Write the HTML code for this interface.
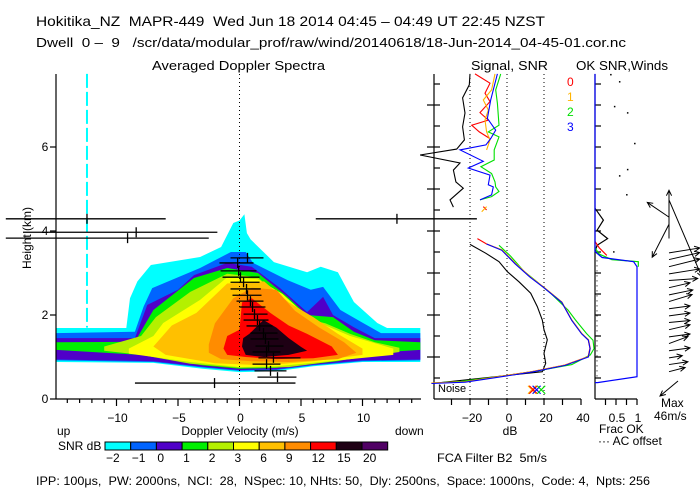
<!DOCTYPE html>
<html><head><meta charset="utf-8"><style>
html,body{margin:0;padding:0;background:#fff;width:700px;height:500px;overflow:hidden}
svg{display:block}
text{font-family:"Liberation Sans",sans-serif;white-space:pre}
</style></head><body>
<svg id="chart" width="700" height="500" viewBox="0 0 700 500" xmlns="http://www.w3.org/2000/svg" fill="#000">
<defs><clipPath id="mainClip"><rect x="56" y="60" width="365" height="339"/></clipPath></defs>
<text x="36" y="26" font-size="14" textLength="509" lengthAdjust="spacingAndGlyphs">Hokitika_NZ  MAPR-449  Wed Jun 18 2014 04:45 – 04:49 UT 22:45 NZST</text>
<text x="36" y="47" font-size="13" textLength="590" lengthAdjust="spacingAndGlyphs">Dwell  0 –  9   /scr/data/modular_prof/raw/wind/20140618/18-Jun-2014_04-45-01.cor.nc</text>
<text x="152" y="70" font-size="13" textLength="173" lengthAdjust="spacingAndGlyphs">Averaged Doppler Spectra</text>
<text x="471" y="70" font-size="13" textLength="77" lengthAdjust="spacingAndGlyphs">Signal, SNR</text>
<text x="576" y="70" font-size="13" textLength="92" lengthAdjust="spacingAndGlyphs">OK SNR,Winds</text>
<g id="spec" clip-path="url(#mainClip)"></g>
<g id="g"></g>
<text x="31" y="238" font-size="12" text-anchor="middle" transform="rotate(-90 31 238)">Height (km)</text>
<text x="57" y="435" font-size="12">up</text>
<text x="240" y="435" font-size="12" text-anchor="middle">Doppler Velocity (m/s)</text>
<text x="395" y="435" font-size="12">down</text>
<text x="58" y="450" font-size="12">SNR dB</text>
<text x="510" y="435" font-size="12" text-anchor="middle">dB</text>
<text x="437" y="462" font-size="12" textLength="110" lengthAdjust="spacingAndGlyphs">FCA Filter B2  5m/s</text>
<text x="599" y="433" font-size="12">Frac OK</text>
<text x="598" y="445" font-size="12">··· AC offset</text>
<text x="661" y="407" font-size="12">Max</text>
<text x="654" y="420" font-size="12">46m/s</text>
<text x="438" y="392" font-size="11">Noise</text>
<text x="36" y="485" font-size="12" textLength="614" lengthAdjust="spacingAndGlyphs">IPP: 100μs,  PW: 2000ns,  NCI:  28,  NSpec: 10, NHts: 50,  Dly: 2500ns,  Space: 1000ns,  Code: 4,  Npts: 256</text>
</svg>
<script>
const levelNames = ["-2","-1","0","1","2","3","6","9","12","15","20"];
const levelColors = ["#00ffff","#0064ff","#5000c8","#00f000","#b4f000","#ffff00","#ffc000","#ff8c00","#ff0000","#1e0014","#500064"];
const lvlCyan = [[-14.9,1.69],[-9.2,1.69],[-8.9,2.4],[-8.3,2.8],[-7.2,3.19],[-3.2,3.38],[-1.5,3.62],[-0.5,4.19],[0,4.25],[0.4,4.4],[0.6,3.95],[0.9,3.8],[2.8,3.26],[5.5,3.02],[6.6,3.15],[8,3.02],[9.3,2.31],[11.2,1.81],[12,1.69],[14.7,1.69],[14.7,0.88],[10,0.88],[6,0.78],[3,0.66],[0,0.64],[-3,0.72],[-7,0.86],[-14.9,0.88]];
const lvlBlue = [[-14.9,1.57],[-8.5,1.6],[-7.8,2.2],[-7.1,2.64],[-3.2,3.12],[-0.7,3.5],[0.5,3.5],[1.1,3.24],[3.9,2.83],[5.8,2.6],[6.8,2.67],[8.2,2.12],[10.1,1.8],[11.5,1.57],[14.7,1.57],[14.7,0.92],[10,0.9],[6,0.8],[3,0.69],[0,0.67],[-3,0.75],[-7,0.88],[-14.9,0.92]];
const lvlIndigo = [[-14.9,1.45],[-8.5,1.45],[-7.5,2.24],[-5,2.6],[-3.7,2.95],[-1,3.24],[1,3.15],[3.3,2.64],[5.5,2.07],[6.8,2.43],[7.6,2.0],[9.3,1.71],[11,1.45],[14.7,1.45],[14.7,0.94],[10,0.92],[6,0.82],[3,0.71],[0,0.69],[-3,0.77],[-7,0.9],[-14.9,0.94]];
const lvlGreen = [[-14.9,1.35],[-8.5,1.36],[-7,2.12],[-3.7,2.88],[-1,3.12],[1.5,3.0],[3.9,2.43],[5.5,2.0],[7.6,1.95],[9.3,1.6],[11,1.4],[14.7,1.35],[14.7,1.17],[11,1.1],[8,0.9],[3,0.74],[0,0.72],[-3,0.8],[-8,1.05],[-14.9,1.17]];
const lvlYGreen = [[-11,1.25],[-8,1.5],[-6.8,1.95],[-4,2.55],[-1,2.98],[1.5,2.9],[3.5,2.35],[5,1.95],[7,1.8],[9,1.55],[11,1.35],[13,1.22],[13,1.12],[9,0.95],[4,0.76],[0,0.74],[-4,0.84],[-8,1.05],[-11,1.15]];
const lvlYellow = [[-9,1.2],[-7,1.5],[-6.2,1.81],[-3.2,2.36],[-1,2.9],[1.5,2.85],[3.5,2.5],[5,2.1],[7,1.75],[9,1.5],[12.5,1.2],[12.5,1.05],[8,0.92],[3,0.78],[0,0.76],[-4,0.88],[-9,1.08]];
const lvlGold = [[-7,1.25],[-5.5,1.75],[-3.5,2.05],[-1,2.75],[2,2.8],[4,2.3],[6,1.95],[8,1.55],[10,1.2],[10,1.05],[6,0.9],[2,0.8],[-2,0.85],[-6,1.05]];
const lvlOrange = [[-2.5,1.3],[-2,1.8],[-0.5,2.4],[1,2.65],[3,2.6],[4.5,2.1],[6.5,1.7],[8.5,1.35],[9.5,1.1],[8,0.95],[4,0.88],[1,0.9],[-1.5,0.95],[-2.5,1.1]];
const lvlRed = [[-1.3,1.2],[-1,1.5],[0,1.65],[0.2,2.3],[1,2.4],[2.5,2.05],[4,1.75],[5.5,1.55],[7.5,1.25],[8,1.05],[6,0.97],[3,0.95],[0.5,1.0],[-1,1.05]];
const lvlBlack = [[0.2,1.25],[0.3,1.45],[0.8,1.55],[1.5,1.75],[1.95,1.88],[3,1.7],[4,1.45],[5,1.24],[5.5,1.15],[4,1.05],[2,1.0],[0.5,1.05]];
const errH = [4.29,4.29,3.97,3.83,3.36,3.24,3.05,2.90,2.78,2.62,2.47,2.33,2.19,2.02,1.88,1.74,1.57,1.43,1.26,1.12,0.98,0.83,0.67,0.52,0.38];
const errC = [-12.4,12.8,-8.4,-9.1,0.65,-0.15,-0.07,0.08,0.33,0.57,0.65,0.89,1.06,1.22,1.46,1.63,1.95,2.11,2.36,2.2,2.76,2.2,2.52,3.09,-2.03];
const errL = [-19,6.2,-17.6,-19,-0.73,-1.63,-1.54,-1.38,-0.73,-0.73,-0.57,-0.24,0,0.33,0.33,0.57,0.89,0.89,1.3,1.06,1.54,1.06,1.22,1.46,-8.5];
const errR = [-6.0,19.3,-1.8,-2.5,1.95,1.14,1.38,1.63,1.63,1.73,1.79,1.95,2.11,2.28,2.36,2.68,3.09,3.17,3.58,3.33,4.96,3.33,3.82,4.63,4.55];
const sigBlack = [[-20,7.74],[-20.4,7.48],[-24,7.17],[-22.7,6.81],[-24,6.48],[-23,6.17],[-27.2,5.95],[-47,5.81],[-25.4,5.62],[-29,5.45],[-27.6,5.17],[-23.6,5.02],[-30.8,4.74],[-29,4.57],null,[-20,3.68],[-11.4,3.47],[-4.3,3.27],[0.2,3.03],[6.5,2.79],[12.8,2.52],[16.4,2.2],[19.1,1.88],[20,1.65],[21.8,1.41],[20,1.09],[20.9,0.85],[19.1,0.65],[-38,0.38]];
const snr0 = [[-17.3,7.74],[-9.2,7.52],[-11.9,7.28],[-9.2,7.08],[-14.6,6.82],[-10.1,6.64],[-19.1,6.52],[-15,6.36],[-9.2,6.2],[-10.1,6.09],null,[-12.8,4.58],[-11,4.5],null,[-16,3.82],[-11,3.69],[-2.9,3.55],[4.3,3.23],[12.4,2.91],[19.6,2.67],[29.5,2.31],[34.9,1.88],[40.3,1.56],[43.9,1.41],[44.8,1.21],[43.9,1.01],[31.3,0.81],[13.3,0.65],[-4.7,0.53],[-22.7,0.41],[-40.7,0.38]];
const snr1 = [[-6.5,7.74],[-8.3,7.36],[-12.8,7.12],[-10.1,6.88],[-11.9,6.64],[-11,6.36],[-9.2,6.17],[-11,5.93],null,[-13.7,4.46],[-11,4.58],null,[-11,3.69],[-2.6,3.55],[4.6,3.23],[12.6,2.91],[19.8,2.67],[29.7,2.31],[35.1,1.88],[40.5,1.56],[44.1,1.41],[45,1.21],[44.1,1.01],[31.5,0.81],[13.5,0.65],[-4.5,0.53],[-22.5,0.41],[-41,0.38]];
const snr2 = [[-3.4,7.74],[-6.1,7.36],[-5.2,7.04],[-4.3,6.52],[-10.1,6.36],[-4.3,6.24],[-6.9,5.93],[-6.9,5.69],[-14.1,5.53],[-8.3,5.37],[-6.5,5.17],[-6.1,5.05],[-4.3,4.94],[-8.3,4.82],[-14.6,4.74],null,[-4.3,3.66],[2,3.4],[9,3.05],[16,2.8],[24,2.5],[33,2.12],[37,1.88],[43,1.56],[46.5,1.4],[47,1.2],[45,1.05],[35,0.82],[15,0.66],[-5,0.53],[-25,0.42],[-40,0.38]];
const snr3 = [[-5.2,7.74],[-8.8,7.12],[-10.6,6.68],[-6.1,6.4],[-8.8,6.2],[-11.4,6.05],[-25.4,5.93],[-12.8,5.66],[-20.9,5.5],[-9.2,5.33],[-10.1,5.1],[-7.4,5.05],[-8.3,4.86],[-14.6,4.74],null,[-11,3.69],[-2.8,3.54],[4.4,3.22],[12.5,2.9],[19.7,2.66],[29.6,2.3],[35,1.87],[40.4,1.55],[44,1.4],[44.9,1.2],[44,1.0],[31.4,0.8],[13.4,0.64],[-4.6,0.52],[-22.6,0.4],[-40.8,0.37]];
const noiseMarkDB = [13.5,14.2,16,18.5];
const noiseMarkH = 0.22;
const fracBlue = [[0,7.74],[0,3.51],[0.17,3.37],[0.92,3.27],[1,3.15],[1,0.53],[0.06,0.39],[0,0.39]];
const fracGreen = [[0,3.6],[0.1,3.45],[0.4,3.32],[1.03,3.27],[1.03,3.15]];
const fracRed = [[0,3.75],[0.1,3.6],[0.28,3.42]];
const fracBlack = [[0,4.54],[0.2,4.26],[0.05,4.02],[0.3,3.82],[0.05,3.66],[0,3.51]];
const acDots = [[0.36,7.74],[0.57,7.57],[0.45,6.98],[0.76,6.83],[0.93,6.1],[0.76,5.48],[0.57,5.33],[0.74,4.88],[0.43,3.52]];
const windH = [0.65,0.82,0.98,1.15,1.32,1.48,1.65,1.82,1.98,2.15,2.32,2.48,2.65,2.82,2.98,3.15,3.32,3.48,3.82,4.16,4.33,4.74];
const windU = [23,27,19,30,27,30,30,30,30,30,33,34,30,41,44,44,44,44,0,-24,-31,47];
const windV = [6,4,3,4,10,4,7,3,4,4,10,7,7,3,7,11,10,7,69,-47,21,-110];

const NS = "http://www.w3.org/2000/svg";
const xV = v => 239.5 + v * 12.3;
const yH = h => 399 - h * 42;
const xDB = d => 507 + d * 1.85;
const xF = f => 595 + f * 42;
const WSCALE = 0.7;
const g = document.getElementById('g');
const spec = document.getElementById('spec');
function mk(tag, attrs, parent) {
  const e = document.createElementNS(NS, tag);
  for (const k in attrs) e.setAttribute(k, attrs[k]);
  (parent || g).appendChild(e);
  return e;
}
function pathFrom(arr, fx) {
  let d = "", pen = false;
  for (const p of arr) {
    if (!p) { pen = false; continue; }
    d += (pen ? "L" : "M") + fx(p[0]).toFixed(1) + " " + yH(p[1]).toFixed(1);
    pen = true;
  }
  return d;
}
const levels = [lvlCyan, lvlBlue, lvlIndigo, lvlGreen, lvlYGreen, lvlYellow, lvlGold, lvlOrange, lvlRed, lvlBlack];
levels.forEach((poly, i) => {
  const el = mk('path', {d: pathFrom(poly, xV) + "Z", fill: levelColors[i], stroke: "none"}, spec);
  
  
});
let art = mk('line', {x1: xV(-12.4), x2: xV(-12.4), y1: yH(7.74), y2: yH(1.7), stroke: "#00ffff", "stroke-width": 2, "stroke-dasharray": "14 4"}, spec);


let zl = mk('line', {x1: xV(0), x2: xV(0), y1: 74, y2: 399, stroke: "#000", "stroke-width": 1, "stroke-dasharray": "1 3"});


errH.forEach((h, i) => {
  const y = yH(h);
  const b = mk('line', {x1: xV(errL[i]), x2: xV(errR[i]), y1: y, y2: y, stroke: "#000", "stroke-width": 1.3});
  
  
  const c = mk('line', {x1: xV(errC[i]), x2: xV(errC[i]), y1: y - 5, y2: y + 5, stroke: "#000", "stroke-width": 1.3});
  
  
});
function line(x1, y1, x2, y2, name, w) {
  const e = mk('line', {x1, y1, x2, y2, stroke: "#000", "stroke-width": w || 1.2});
  
  
  return e;
}
line(56, 74, 56, 399, 'y-axis');
line(56, 399, 421, 399, 'x-axis');
line(434, 74, 434, 399, 'signal-y-axis');
line(434, 399, 581, 399, 'db-axis');
line(595, 74, 595, 399, 'frac-y-axis');
line(595, 399, 637, 399, 'frac-axis');
const hTicks = [0, 2, 4, 6];
hTicks.forEach(h => {
  line(50, yH(h), 56, yH(h), 'y-tick');
  const t = mk('text', {x: 45, y: yH(h) + 4, "font-size": 12, "text-anchor": "middle"});
  t.textContent = h;
  
  
});
for (let h = 1; h <= 7; h++) line(427, yH(h), 434, yH(h), 'main-right-tick');
for (let h = 0.5; h <= 7.6; h += 0.5) { line(434, yH(h), 440, yH(h), 'signal-tick'); line(595, yH(h), 601, yH(h), 'frac-tick'); }
for (let v = -14; v <= 14; v++) line(xV(v), 399, xV(v), v % 5 === 0 ? 406 : 403, 'x-tick');
const vLabels = [-10, -5, 0, 5, 10];
vLabels.forEach(v => {
  const t = mk('text', {x: xV(v) + 1, y: 422, "font-size": 12, "text-anchor": "middle"});
  t.textContent = v < 0 ? "−" + (-v) : String(v);
  
  
});
for (let d = -30; d <= 40; d += 10) line(xDB(d), 399, xDB(d), 405, 'db-tick');
const dbLabels = [-20, 0, 20, 40];
dbLabels.forEach(d => {
  const t = mk('text', {x: xDB(d) + 2, y: 422, "font-size": 12, "text-anchor": "middle"});
  t.textContent = d < 0 ? "−" + (-d) : String(d);
  
  
  if (d < 40) {
    const dl = mk('line', {x1: xDB(d), x2: xDB(d), y1: 74, y2: 399, stroke: "#000", "stroke-dasharray": "1 3"});
    
    
  }
});
for (let f = 0.25; f <= 1.001; f += 0.25) line(xF(f), 399, xF(f), 405, 'frac-tick-bottom');
[["0.5", 0.5], ["1", 1]].forEach(([s, f]) => {
  const t = mk('text', {x: xF(f) + 1, y: 422, "font-size": 12, "text-anchor": "middle"});
  t.textContent = s;
  
  
});
const sigSeries = [[sigBlack, "#000", "signal-line"], [snr2, "#00e000", "snr-beam-2"], [snr0, "#ff0000", "snr-beam-0"], [snr1, "#ffb400", "snr-beam-1"], [snr3, "#0000ff", "snr-beam-3"]];
sigSeries.forEach(([arr, col, nm]) => {
  const p = mk('path', {d: pathFrom(arr, xDB), fill: "none", stroke: col, "stroke-width": 1.1});
  
  
});
const markCols = ["#ffb400", "#ff0000", "#0000ff", "#00e000"];
noiseMarkDB.forEach((d, i) => {
  const x = xDB(d), y = yH(noiseMarkH);
  const m = mk('path', {d: `M${x-4} ${y-4}L${x+4} ${y+4}M${x-4} ${y+4}L${x+4} ${y-4}`, stroke: markCols[i], "stroke-width": 1.2});
  
  
});
const legCols = ["#ff0000", "#ffb400", "#00e000", "#0000ff"];
["0", "1", "2", "3"].forEach((s, i) => {
  const t = mk('text', {x: 567, y: 86 + i * 15, "font-size": 12, fill: legCols[i]});
  t.textContent = s;
  
  
});
[[fracBlack, "#000", "ac-line"], [fracRed, "#ff0000", "frac-ok-beam-0"], [fracGreen, "#00e000", "frac-ok-beam-2"], [fracBlue, "#0000ff", "frac-ok-beam-3"]].forEach(([arr, col, nm]) => {
  const p = mk('path', {d: pathFrom(arr, xF), fill: "none", stroke: col, "stroke-width": 1.2});
  
  
});
acDots.forEach(p => {
  const c = mk('rect', {x: xF(p[0]), y: yH(p[1]), width: 1.5, height: 1.5, fill: "#000"});
  
  
});
const acl = mk('line', {x1: 597, x2: 597, y1: yH(3.3), y2: yH(0.45), stroke: "#000", "stroke-dasharray": "1 4"});


function arrow(x1, y1, x2, y2, name) {
  const a = Math.atan2(y2 - y1, x2 - x1), L = 6;
  const d = `M${x1} ${y1}L${x2} ${y2}M${x2 - L*Math.cos(a-0.45)} ${y2 - L*Math.sin(a-0.45)}L${x2} ${y2}L${x2 - L*Math.cos(a+0.45)} ${y2 - L*Math.sin(a+0.45)}`;
  const p = mk('path', {d, fill: "none", stroke: "#000", "stroke-width": 1});
  
  
}
windH.forEach((h, i) => {
  const x1 = 669, y1 = yH(h);
  arrow(x1, y1, x1 + windU[i] * WSCALE, y1 - windV[i] * WSCALE, 'wind-arrow');
});
arrow(678, 381, 660, 396, 'max-wind-arrow');
levelNames.forEach((s, i) => {
  const x = 105 + i * 25.7;
  const r = mk('rect', {x, y: 442, width: 25.7, height: 8, fill: levelColors[i], stroke: "#000", "stroke-width": 1});
  
  
  const t = mk('text', {x: x + 1, y: 462, "font-size": 12});
  t.textContent = s.replace('-', '−');
  
  
});
</script>
</body></html>
